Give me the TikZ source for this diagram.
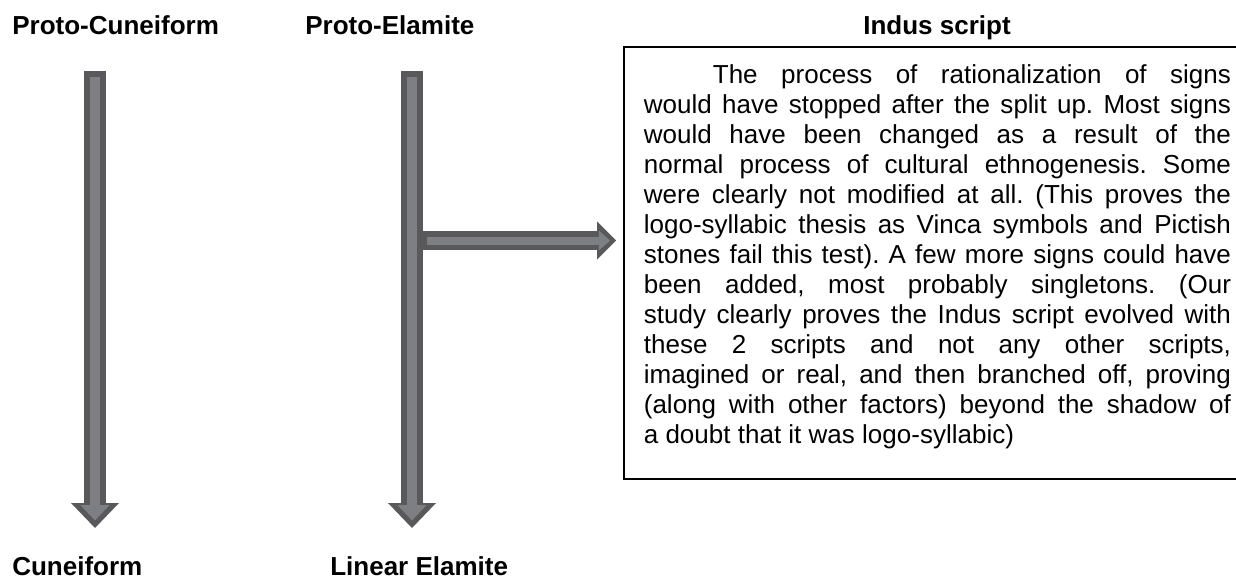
\documentclass[tikz,border=0pt]{standalone}
\usepackage{fontspec}
\setmainfont{Liberation Sans}
\usetikzlibrary{arrows.meta}
\definecolor{arrowdark}{RGB}{89,89,91}
\definecolor{arrowlight}{RGB}{126,127,130}
\begin{document}
\begin{tikzpicture}[x=0.025cm,y=-0.025cm,
    title/.style={anchor=base west,inner sep=0pt,font=\fontsize{18.5pt}{22pt}\selectfont\bfseries},
    fatdown/.style={draw=arrowdark,line width=0.55cm,
      -{Triangle[length=0.625cm,width=1.2cm,line width=0pt]}},
    fatdownin/.style={draw=arrowlight,line width=0.27cm,shorten <=0.15cm,shorten >=0.19cm,
      -{Triangle[length=0.38cm,width=0.72cm,line width=0pt]}},
    fatright/.style={draw=arrowdark,line width=0.475cm,
      -{Triangle[length=0.475cm,width=0.95cm,line width=0pt]}},
    fatrightin/.style={draw=arrowlight,line width=0.2cm,shorten <=0.1cm,shorten >=0.15cm,
      -{Triangle[length=0.28cm,width=0.5cm,line width=0pt]}}]
  \useasboundingbox (0,0) rectangle (1236,579);
  % script names
  \node[title] (pc) at (12,34.5) {Proto-Cuneiform};
  \node[title] (pe) at (305,34.5) {Proto-Elamite};
  \node[title] (ind) at (863,34.5) {Indus script};
  \node[title] (cu) at (12,575) {Cuneiform};
  \node[title] (le) at (330,575) {Linear Elamite};
  % note box
  \node[draw,line width=1.2pt,anchor=north west,inner xsep=0.5cm,inner ysep=0.4375cm,
        font=\fontsize{18.5pt}{21.34pt}\selectfont] (note) at (623,46)
    {\parbox[t][9.925cm][t]{14.675cm}{%
      \frenchspacing\tolerance=10000\hbadness=10000\noindent\hspace*{1.725cm}%
      The process of rationalization of signs\linebreak
      would have stopped after the split up. Most signs\linebreak
      would have been changed as a result of the\linebreak
      normal process of cultural ethnogenesis. Some\linebreak
      were clearly not modified at all. (This proves the\linebreak
      logo-syllabic thesis as Vinca symbols and Pictish\linebreak
      stones fail this test). A few more signs could have\linebreak
      been added, most probably singletons. (Our\linebreak
      study clearly proves the Indus script evolved with\linebreak
      these 2 scripts and not any other scripts,\linebreak
      imagined or real, and then branched off, proving\linebreak
      (along with other factors) beyond the shadow of\linebreak
      a doubt that it was logo-syllabic)}};
  % arrow ends
  \coordinate (pc-top) at (95,71);
  \coordinate (pc-end) at (95,528);
  \coordinate (pe-top) at (412,71);
  \coordinate (pe-end) at (412,528);
  \coordinate (split) at (423,240.5);
  % arrows
  \draw[fatdown] (pc-top) -- (pc-end);
  \draw[fatdownin] (pc-top) -- (pc-end);
  \draw[fatdown] (pe-top) -- (pe-end);
  \draw[fatdownin] (pe-top) -- (pe-end);
  \draw[fatright,shorten >=0.175cm] (split) -- (note.west |- split);
  \draw[fatrightin,shorten >=0.325cm] (split) -- (note.west |- split);
\end{tikzpicture}
\end{document}
